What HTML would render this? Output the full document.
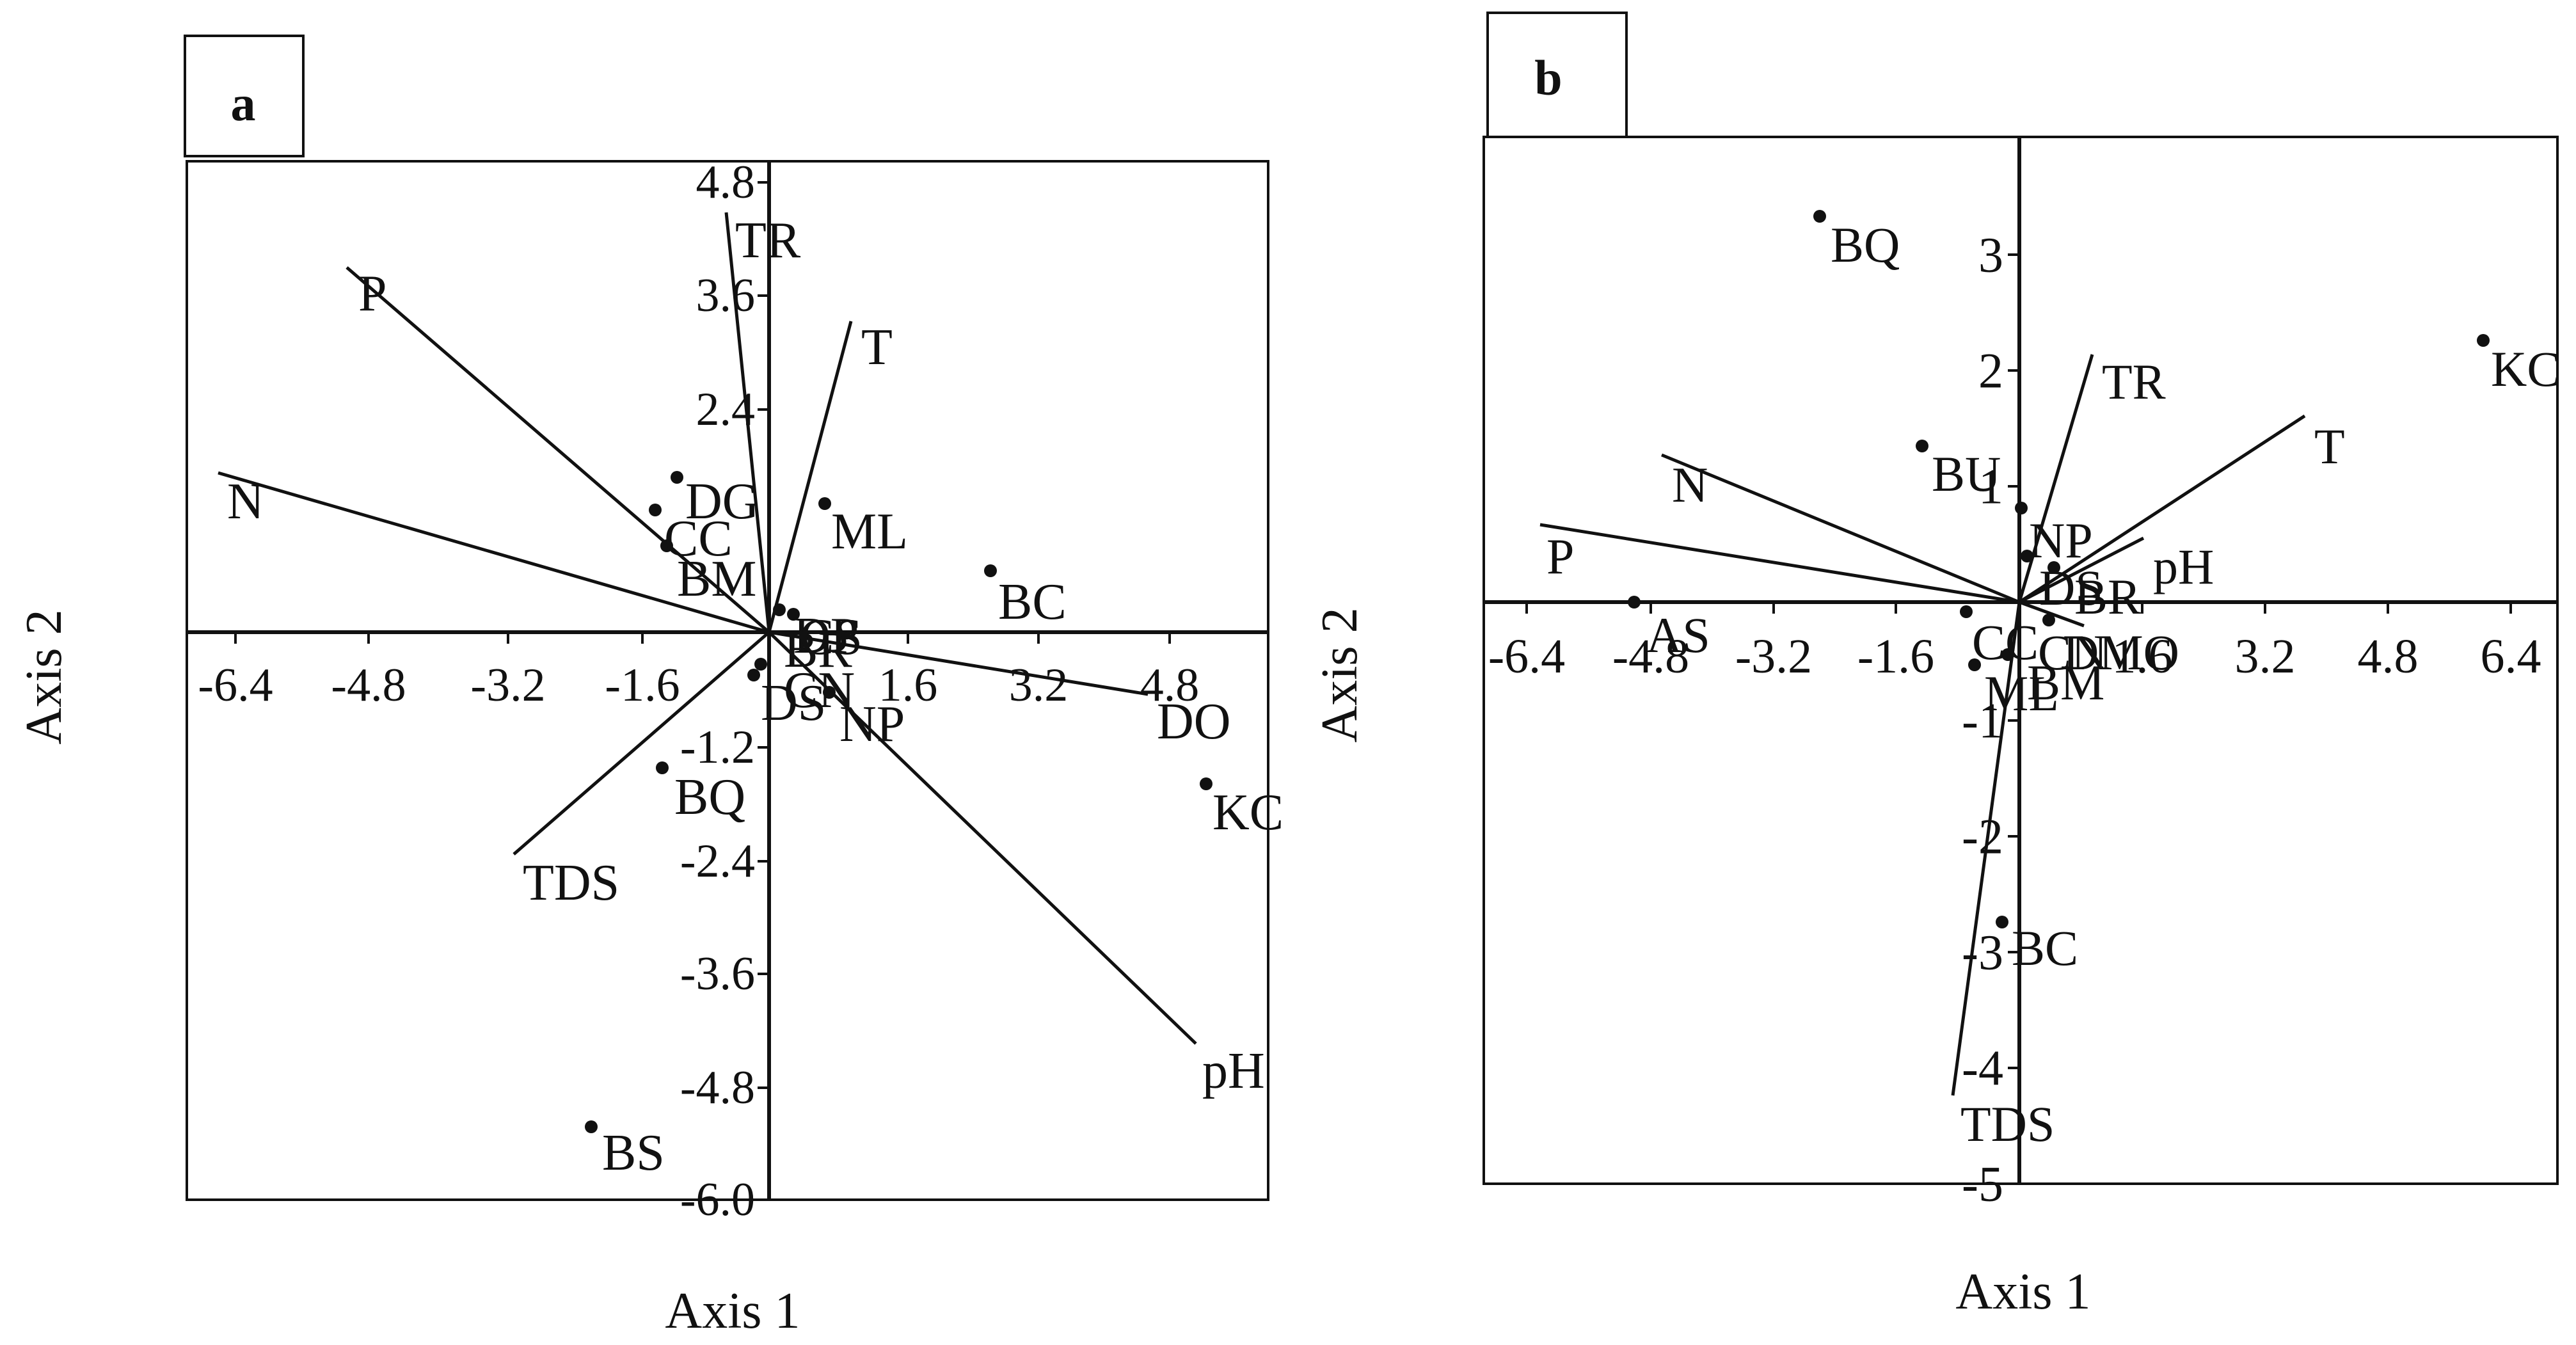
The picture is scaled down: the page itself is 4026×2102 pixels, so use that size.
<!DOCTYPE html>
<html><head><meta charset="utf-8"><style>
html,body{margin:0;padding:0;background:#fff;}
svg{display:block;}
text{font-family:"Liberation Serif",serif;fill:#111;}
</style></head><body>
<svg width="4026" height="2102" viewBox="0 0 4026 2102" xmlns="http://www.w3.org/2000/svg">
<g stroke="#111" fill="none">
<!-- panel a -->
<rect x="289" y="56" width="185" height="188" stroke-width="4"/>
<rect x="292" y="252" width="1690" height="1623" stroke-width="4"/>
<line x1="292" y1="988" x2="1982" y2="988" stroke-width="6"/>
<line x1="1202" y1="252" x2="1202" y2="1875" stroke-width="6"/>
<g stroke-width="4">
<line x1="1184" y1="285" x2="1202" y2="285"/><line x1="1184" y1="462" x2="1202" y2="462"/><line x1="1184" y1="640" x2="1202" y2="640"/>
<line x1="1184" y1="1168" x2="1202" y2="1168"/><line x1="1184" y1="1346" x2="1202" y2="1346"/><line x1="1184" y1="1522" x2="1202" y2="1522"/><line x1="1184" y1="1700" x2="1202" y2="1700"/>
<line x1="368" y1="988" x2="368" y2="1006"/><line x1="576" y1="988" x2="576" y2="1006"/><line x1="794" y1="988" x2="794" y2="1006"/><line x1="1004" y1="988" x2="1004" y2="1006"/>
<line x1="1419" y1="988" x2="1419" y2="1006"/><line x1="1623" y1="988" x2="1623" y2="1006"/><line x1="1828" y1="988" x2="1828" y2="1006"/>
</g>
<g stroke-width="5">
<line x1="1202" y1="988" x2="1135" y2="332"/>
<line x1="1202" y1="988" x2="542" y2="418"/>
<line x1="1202" y1="988" x2="1330" y2="502"/>
<line x1="1202" y1="988" x2="341" y2="739"/>
<line x1="1202" y1="988" x2="1794" y2="1085"/>
<line x1="1202" y1="988" x2="1869" y2="1631"/>
<line x1="1202" y1="988" x2="803" y2="1335"/>
</g>
<!-- panel b -->
<rect x="2325" y="20" width="217" height="194" stroke-width="4"/>
<rect x="2319" y="214" width="1678" height="1636" stroke-width="4"/>
<line x1="2319" y1="941" x2="3997" y2="941" stroke-width="6"/>
<line x1="3156" y1="214" x2="3156" y2="1850" stroke-width="6"/>
<g stroke-width="4">
<line x1="3138" y1="398" x2="3156" y2="398"/><line x1="3138" y1="579" x2="3156" y2="579"/><line x1="3138" y1="760" x2="3156" y2="760"/>
<line x1="3138" y1="1126" x2="3156" y2="1126"/><line x1="3138" y1="1307" x2="3156" y2="1307"/><line x1="3138" y1="1488" x2="3156" y2="1488"/><line x1="3138" y1="1669" x2="3156" y2="1669"/>
<line x1="2386" y1="941" x2="2386" y2="959"/><line x1="2580" y1="941" x2="2580" y2="959"/><line x1="2772" y1="941" x2="2772" y2="959"/><line x1="2963" y1="941" x2="2963" y2="959"/>
<line x1="3348" y1="941" x2="3348" y2="959"/><line x1="3540" y1="941" x2="3540" y2="959"/><line x1="3732" y1="941" x2="3732" y2="959"/><line x1="3924" y1="941" x2="3924" y2="959"/>
</g>
<g stroke-width="5">
<line x1="3156" y1="941" x2="3270" y2="554"/>
<line x1="3156" y1="941" x2="3602" y2="650"/>
<line x1="3156" y1="941" x2="3350" y2="841"/>
<line x1="3156" y1="941" x2="2597" y2="711"/>
<line x1="3156" y1="941" x2="2407" y2="820"/>
<line x1="3156" y1="941" x2="3052" y2="1712"/>
<line x1="3156" y1="941" x2="3257" y2="978"/>
</g>
</g>
<g fill="#111">
<circle cx="1058" cy="746" r="10"/><circle cx="1024" cy="797" r="10"/><circle cx="1042" cy="853" r="10"/>
<circle cx="1289" cy="787" r="10"/><circle cx="1548" cy="892" r="10"/><circle cx="1885" cy="1225" r="10"/>
<circle cx="1035" cy="1200" r="10"/><circle cx="924" cy="1761" r="10"/>
<circle cx="1218" cy="953" r="10"/><circle cx="1240" cy="960" r="10"/>
<circle cx="1189" cy="1038" r="10"/><circle cx="1178" cy="1055" r="10"/><circle cx="1296" cy="1082" r="10"/>
<circle cx="2844" cy="338" r="10"/><circle cx="3881" cy="532" r="10"/><circle cx="3004" cy="697" r="10"/>
<circle cx="2554" cy="941" r="10"/><circle cx="3159" cy="794" r="10"/><circle cx="3168" cy="869" r="10"/>
<circle cx="3210" cy="887" r="10"/><circle cx="3073" cy="956" r="10"/><circle cx="3086" cy="1039" r="10"/>
<circle cx="3138" cy="1023" r="10"/><circle cx="3202" cy="969" r="10"/><circle cx="3129" cy="1441" r="10"/>
</g>
<!-- panel a text -->
<text x="380" y="188" font-size="78" font-weight="bold" text-anchor="middle">a</text>
<g font-size="74" text-anchor="end" dominant-baseline="central">
<text x="1180" y="285">4.8</text><text x="1180" y="462">3.6</text><text x="1180" y="640">2.4</text>
<text x="1180" y="1168">-1.2</text><text x="1180" y="1346">-2.4</text><text x="1180" y="1522">-3.6</text>
<text x="1180" y="1700">-4.8</text><text x="1180" y="1875">-6.0</text>
</g>
<g font-size="74" text-anchor="middle" dominant-baseline="central">
<text x="368" y="1071">-6.4</text><text x="576" y="1071">-4.8</text><text x="794" y="1071">-3.2</text>
<text x="1004" y="1071">-1.6</text><text x="1419" y="1071">1.6</text><text x="1623" y="1071">3.2</text><text x="1828" y="1071">4.8</text>
</g>
<g font-size="80">
<text x="1149" y="402">TR</text><text x="560" y="485">P</text><text x="1346" y="569">T</text>
<text x="355" y="810">N</text><text x="1299" y="857">ML</text><text x="1560" y="967">BC</text>
<text x="1808" y="1154">DO</text><text x="1895" y="1296">KC</text><text x="1879" y="1700">pH</text>
<text x="817" y="1406">TDS</text><text x="1054" y="1272">BQ</text><text x="941" y="1828">BS</text>
<text x="1071" y="810">DG</text><text x="1038" y="868">CC</text><text x="1058" y="931">BM</text>
<text x="1312" y="1158">NP</text><text x="1225" y="1105">CN</text><text x="1189" y="1125">DS</text>
<text x="1225" y="1042">BR</text><text x="1240" y="1020">DP</text><text x="1250" y="1022">CS</text>
</g>
<text x="1145" y="2075" font-size="80" text-anchor="middle">Axis 1</text>
<text transform="translate(95,1058) rotate(-90)" font-size="80" text-anchor="middle">Axis 2</text>
<!-- panel b text -->
<text x="2420" y="148" font-size="78" font-weight="bold" text-anchor="middle">b</text>
<g font-size="78" text-anchor="end" dominant-baseline="central">
<text x="3131" y="398">3</text><text x="3131" y="579">2</text><text x="3131" y="760">1</text>
<text x="3131" y="1126">-1</text><text x="3131" y="1307">-2</text><text x="3131" y="1488">-3</text>
<text x="3131" y="1669">-4</text><text x="3131" y="1850">-5</text>
</g>
<g font-size="76" text-anchor="middle" dominant-baseline="central">
<text x="2386" y="1026">-6.4</text><text x="2580" y="1026">-4.8</text><text x="2772" y="1026">-3.2</text>
<text x="2963" y="1026">-1.6</text><text x="3348" y="1026">1.6</text><text x="3540" y="1026">3.2</text>
<text x="3732" y="1026">4.8</text><text x="3924" y="1026">6.4</text>
</g>
<g font-size="78">
<text x="2861" y="409">BQ</text><text x="3893" y="603">KC</text><text x="3285" y="623">TR</text>
<text x="3617" y="724">T</text><text x="3019" y="767">BU</text><text x="2613" y="784">N</text>
<text x="2417" y="896">P</text><text x="3171" y="871">NP</text><text x="3365" y="912">pH</text>
<text x="3187" y="945">DS</text><text x="3242" y="959">BR</text><text x="2573" y="1019">AS</text>
<text x="3082" y="1030">CC</text><text x="3185" y="1046">CN</text><text x="3224" y="1046">DMO</text>
<text x="3101" y="1110">ML</text><text x="3168" y="1093">BM</text><text x="3144" y="1508">BC</text>
<text x="3064" y="1783">TDS</text>
</g>
<text x="3162" y="2045" font-size="80" text-anchor="middle">Axis 1</text>
<text transform="translate(2120,1055) rotate(-90)" font-size="80" text-anchor="middle">Axis 2</text>
</svg>
</body></html>
